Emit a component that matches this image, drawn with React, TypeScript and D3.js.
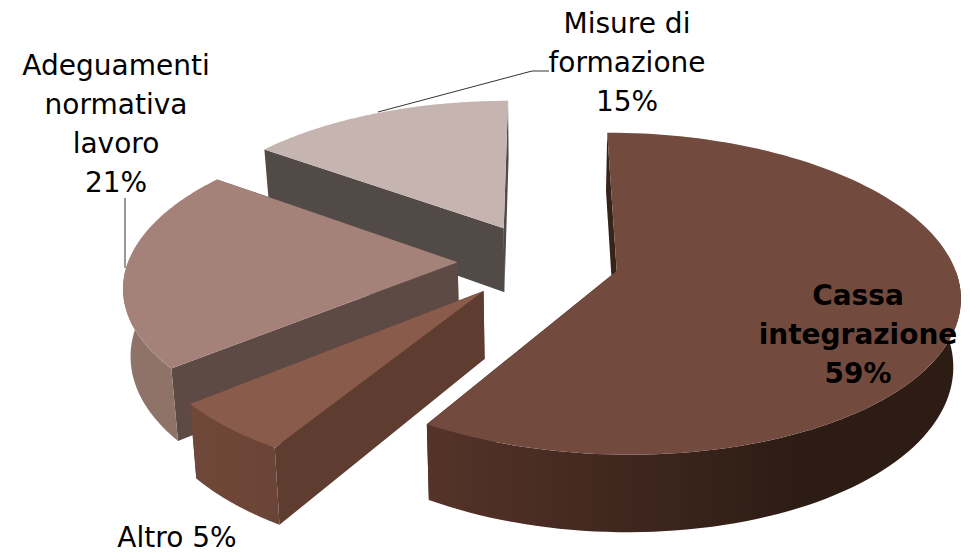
import * as d3 from 'd3';

const categories = ['Cassa integrazione', 'Altro', 'Adeguamenti normativa lavoro', 'Misure di formazione'];
// unrounded shares, the labels show them rounded
const shares = [58.7, 5.3, 21.0, 15.0];
const explodes = [0.235, 0.25, 0.245, 0.245];
const sizes = [1, 0.985, 0.98, 0.99];
const topColors = ['#734b3e', '#895b4a', '#a58279', '#c6b4b0'];
const cutColors = ['#36231a', '#5e3c30', '#5e4a45', '#524a46'];
const wallStart = ['#553329', '#70483a', '#8f7369', '#a89a96'];
const wallEnd = ['#2c1c14', '#6a4436', '#8f7369', '#a89a96'];

const WIDTH = 970;
const HEIGHT = 553;
const cx = 540;
const cy = 261;
const radiusX = 336;
const radiusY = 155;
const persp = 0.14;
const converge = 0.018;
const depth = 66;

// world point (u right, v back, in radius units) on the top (z=0) or bottom (z=1) of the pie
function project(u: number, v: number, z: number): [number, number] {
  const w = 1 + persp * v;
  return [cx + ((radiusX * u) / w) * (1 - converge * z), cy - (radiusY * v) / w + (depth * z) / w];
}

const arcs = d3.pie<number>().sort(null).value(d => d)(shares);
const toPath = d3.line();

function slicePaths(start: number, end: number, explode: number, size: number) {
  const mid = (start + end) / 2;
  const ox = explode * Math.sin(mid);
  const oy = explode * Math.cos(mid);
  const at = (a: number, z: number) => project(ox + size * Math.sin(a), oy + size * Math.cos(a), z);
  const angles = d3.range(0, 121).map(i => start + ((end - start) * i) / 120);
  // only the part of the rim that faces the viewer
  const front = angles.filter(a => Math.cos(a) < 0.02);
  const apexTop = project(ox, oy, 0);
  const apexBot = project(ox, oy, 1);
  const rim = angles.map(a => at(a, 0));
  return {
    top: toPath([apexTop, ...rim])! + 'Z',
    wall: front.length
      ? toPath([...front.map(a => at(a, 0)), ...[...front].reverse().map(a => at(a, 1))])! + 'Z'
      : null,
    cutStart: toPath([apexTop, at(start, 0), at(start, 1), apexBot])! + 'Z',
    cutEnd: toPath([apexTop, at(end, 0), at(end, 1), apexBot])! + 'Z',
  };
}

const drawOrder = [3, 2, 1, 0];

const fontFamily = '"DejaVu Sans", Verdana, sans-serif';

const labels = [
  { lines: ['Cassa', 'integrazione', '59%'], x: 858, y: 305, bold: true },
  { lines: ['Altro 5%'], x: 177, y: 547, bold: false },
  { lines: ['Adeguamenti', 'normativa', 'lavoro', '21%'], x: 116, y: 75, bold: false },
  { lines: ['Misure di', 'formazione', '15%'], x: 627, y: 33, bold: false },
];

const leaders: [number, number][][] = [
  [[125, 198], [125, 268]],
  [[378, 112], [532, 71], [549, 71]],
];

export default function App() {
  return (
    <svg
      width={WIDTH}
      height={HEIGHT}
      style={{ position: 'absolute', left: 0, top: 0, background: '#fff' }}
    >
      <defs>
        {categories.map((_, i) => (
          <linearGradient key={i} id={`wall${i}`} gradientUnits="userSpaceOnUse" x1={i === 0 ? 430 : 190} x2={i === 0 ? 800 : 280} y1={0} y2={0}>
            <stop offset="0%" stopColor={wallStart[i]} />
            <stop offset="100%" stopColor={wallEnd[i]} />
          </linearGradient>
        ))}
      </defs>
      {drawOrder.map(i => {
        const a = arcs[i];
        const p = slicePaths(a.startAngle, a.endAngle, explodes[i], sizes[i]);
        return (
          <g key={categories[i]}>
            <path d={p.cutStart} fill={cutColors[i]} />
            <path d={p.cutEnd} fill={cutColors[i]} />
            {p.wall && <path d={p.wall} fill={`url(#wall${i})`} />}
            <path d={p.top} fill={topColors[i]} />
          </g>
        );
      })}
      {leaders.map((pts, i) => (
        <path key={i} d={toPath(pts)!} fill="none" stroke="#333" strokeWidth={1} />
      ))}
      {labels.map(l => (
        <text
          key={l.lines[0]}
          x={l.x}
          y={l.y}
          textAnchor="middle"
          fontFamily={fontFamily}
          fontSize={28}
          fontWeight={l.bold ? 700 : 400}
          fill="#000"
        >
          {l.lines.map((t, j) => (
            <tspan key={j} x={l.x} dy={j === 0 ? 0 : 39}>
              {t}
            </tspan>
          ))}
        </text>
      ))}
    </svg>
  );
}
